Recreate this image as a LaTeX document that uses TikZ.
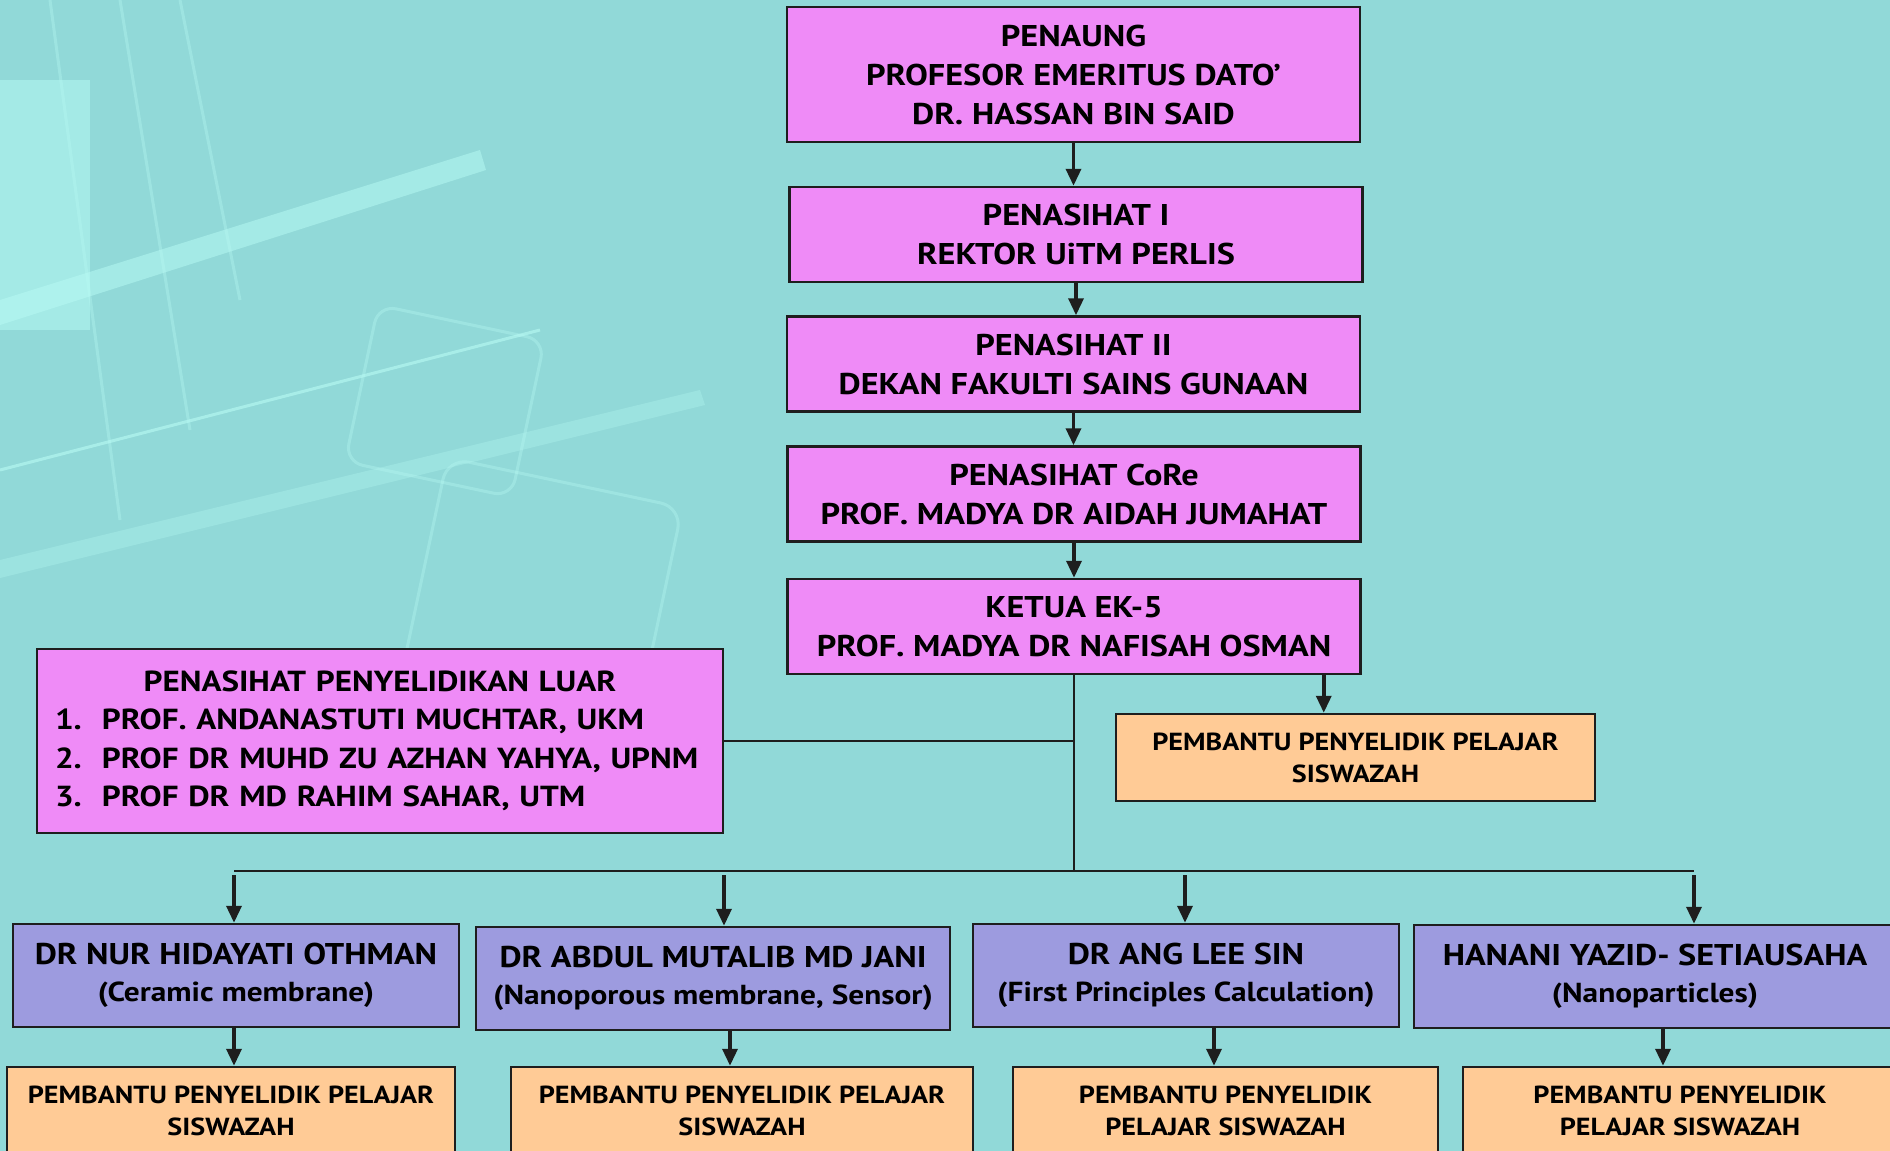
\documentclass[tikz,border=0pt]{standalone}
\usepackage{fontspec}
\setmainfont{PT Sans}[FakeStretch=1.14]
\usetikzlibrary{positioning,arrows.meta,calc}
\definecolor{ekBg}{HTML}{91D9D8}
\definecolor{ekPink}{HTML}{EF8BF7}
\definecolor{ekUngu}{HTML}{9D9BDF}
\definecolor{ekPic}{HTML}{FFCB96}
\definecolor{ekLine}{HTML}{1E1E1E}
\definecolor{ekCahaya}{HTML}{B8FBF4}
\newcommand{\bidang}[1]{{\fontsize{27.5}{37}\selectfont #1}}

\begin{document}
\begin{tikzpicture}[x=1pt, y=-1pt,
  kotak/.style={draw=ekLine, line width=2.5pt, align=center, inner sep=0pt},
  atas/.style ={kotak, fill=ekPink, minimum width=573pt, minimum height=95pt, font=\bfseries\fontsize{30}{39}\selectfont},
  biru/.style ={kotak, fill=ekUngu, minimum height=103pt, font=\bfseries\fontsize{30}{37}\selectfont},
  bantu/.style={kotak, fill=ekPic, font=\bfseries\fontsize{24.7}{32}\selectfont},
  panah/.style={-{Triangle[length=17pt,width=15pt]}, line width=3.5pt, draw=ekLine},
  garis/.style={line width=2.2pt, draw=ekLine},
]
\useasboundingbox (0,0) rectangle (1890,1151);
\clip (0,0) rectangle (1890,1151);
\fill[ekBg] (0,0) rectangle (1890,1151);

% ---- latar ----
\begin{scope}[ekCahaya, opacity=.35, line width=3pt]
\fill[opacity=.5] (0,80) rectangle (90,330);
\draw[rounded corners=18pt, rotate around={-12:(440,400)}] (360,320) rectangle (530,480);
\draw[rounded corners=22pt, rotate around={-12:(540,600)}] (420,480) rectangle (660,720);
\draw (50,0) -- (120,520);
\draw (120,0) -- (190,430);
\draw (180,0) -- (240,300);
\fill[opacity=.5] (0,300) -- (480,150) -- (486,170) -- (0,325) -- cycle;
\fill[opacity=.3] (0,560) -- (700,390) -- (705,405) -- (0,578) -- cycle;
\draw[opacity=.6] (0,470) -- (540,330);
\end{scope}

% ---- Pimpinan ----
\node[atas, minimum height=135pt] (penaung) at (1073.5,74.5)
     {PENAUNG\\PROFESOR EMERITUS DATO’\\DR. HASSAN BIN SAID};
\node[atas] (pen1)  at (1076,234.5) {PENASIHAT I\\REKTOR UiTM PERLIS};
\node[atas] (pen2)  at (1073.5,364) {PENASIHAT II\\DEKAN FAKULTI SAINS GUNAAN};
\node[atas] (core)  at (1074,494)   {PENASIHAT CoRe\\PROF. MADYA DR AIDAH JUMAHAT};
\node[atas] (ketua) at (1074,626.5) {KETUA EK-5\\PROF. MADYA DR NAFISAH OSMAN};

\node[bantu, minimum width=479pt, minimum height=87pt] (bantuK) at (1355.5,757.5)
     {PEMBANTU PENYELIDIK PELAJAR\\SISWAZAH};

\node[kotak, fill=ekPink, minimum width=686pt, minimum height=184pt, text width=650pt,
      align=left, font=\bfseries\fontsize{29}{38.5}\selectfont] (luar) at (380,741)
     {\makebox[650pt][c]{PENASIHAT PENYELIDIKAN LUAR}\\
      \makebox[47pt][l]{1.}PROF. ANDANASTUTI MUCHTAR, UKM\\
      \makebox[47pt][l]{2.}PROF DR MUHD ZU AZHAN YAHYA, UPNM\\
      \makebox[47pt][l]{3.}PROF DR MD RAHIM SAHAR, UTM};

% ---- Penyelidik ----
\node[biru, minimum width=446pt] (biruA) at (236,975.5)
     {DR NUR HIDAYATI OTHMAN\\\bidang{(Ceramic membrane)}};
\node[biru, minimum width=474pt] (biruB) at (713,978.5)
     {DR ABDUL MUTALIB MD JANI\\\bidang{(Nanoporous membrane, Sensor)}};
\node[biru, minimum width=426pt] (biruC) at (1186,975.5)
     {DR ANG LEE SIN\\\bidang{(First Principles Calculation)}};
\node[biru, minimum width=482pt] (biruD) at (1655,976.5)
     {HANANI YAZID- SETIAUSAHA\\\bidang{(Nanoparticles)}};

\node[bantu, minimum width=448pt, minimum height=88pt] (bantuA) at (231,1111)
     {PEMBANTU PENYELIDIK PELAJAR\\SISWAZAH};
\node[bantu, minimum width=462pt, minimum height=88pt] (bantuB) at (742,1111)
     {PEMBANTU PENYELIDIK PELAJAR\\SISWAZAH};
\node[bantu, minimum width=425pt, minimum height=88pt] (bantuC) at (1225.5,1111)
     {PEMBANTU PENYELIDIK\\PELAJAR SISWAZAH};
\node[bantu, minimum width=434pt, minimum height=88pt] (bantuD) at (1680,1111)
     {PEMBANTU PENYELIDIK\\PELAJAR SISWAZAH};

% ---- Anak panah ----
\draw[panah] (penaung.south) -- (penaung.south |- pen1.north);
\draw[panah] (pen1.south)    -- (pen1.south |- pen2.north);
\draw[panah] (pen2.south)    -- (pen2.south |- core.north);
\draw[panah] (core.south)    -- (core.south |- ketua.north);

\coordinate (ke) at ([xshift=-38pt]ketua.south east);
\draw[panah] (ke) -- (ke |- bantuK.north);

\coordinate (simpang) at (ketua.south |- 0,871);
\draw[garis] (ketua.south) -- (simpang);
\draw[garis] (luar.east) -- (luar.east -| ketua.south);

\coordinate (tA) at (234,871);
\coordinate (tB) at (724,871);
\coordinate (tC) at (1185,871);
\coordinate (tD) at (1694,871);
\draw[garis] (tA) -- (tD);
\foreach \n in {A,B,C,D}
  \draw[panah] ([yshift=-4pt]t\n) -- (t\n |- biru\n.north);

\foreach \n/\s in {A/-2, B/17, C/28, D/8} {
  \coordinate (s\n) at ([xshift=\s pt]biru\n.south);
  \draw[panah] (s\n) -- (s\n |- bantu\n.north);
}

\end{tikzpicture}
\end{document}
